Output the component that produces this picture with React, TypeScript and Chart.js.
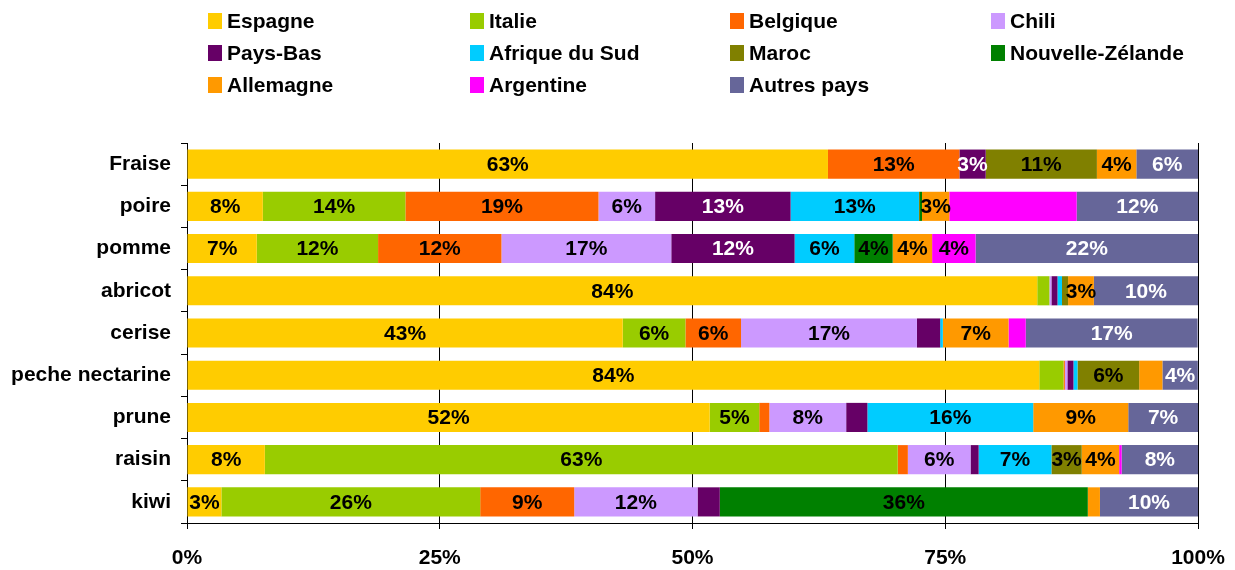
import React, { useEffect, useRef } from "react";
import { Chart, registerables } from "chart.js";

Chart.register(...registerables);

const categories = ["Fraise", "poire", "pomme", "abricot", "cerise", "peche nectarine", "prune", "raisin", "kiwi"];

const espagne = [63.4, 7.5, 6.9, 84.1, 43.1, 84.3, 51.7, 7.7, 3.4];
const italie = [0, 14.1, 12.0, 1.2, 6.2, 2.4, 4.9, 62.6, 25.6];
const belgique = [13.0, 19.1, 12.2, 0, 5.5, 0.13, 1.0, 1.0, 9.3];
const chili = [0, 5.6, 16.8, 0.2, 17.4, 0.25, 7.6, 6.2, 12.2];
const paysBas = [2.6, 13.4, 12.2, 0.6, 2.3, 0.6, 2.1, 0.8, 2.2];
const afriqueDuSud = [0, 12.7, 5.9, 0.45, 0.26, 0.4, 16.4, 7.2, 0];
const maroc = [11.0, 0.1, 0, 0.6, 0, 6.1, 0, 3.0, 0];
const nouvelleZelande = [0, 0.2, 3.8, 0, 0, 0, 0, 0, 36.4];
const allemagne = [3.9, 2.7, 3.9, 2.55, 6.5, 2.3, 9.4, 3.7, 1.2];
const argentine = [0, 12.6, 4.3, 0, 1.7, 0, 0, 0.25, 0];
const autresPays = [6.1, 12.0, 22.0, 10.3, 17.0, 3.5, 6.9, 7.55, 9.7];

const xTicks = [0, 25, 50, 75, 100];

// labels that are not shown in the original (series, category)
const hiddenLabels = [["Argentine", "poire"]];

const seriesNames = ["Espagne", "Italie", "Belgique", "Chili", "Pays-Bas", "Afrique du Sud", "Maroc", "Nouvelle-Zélande", "Allemagne", "Argentine", "Autres pays"];
const seriesValues = [espagne, italie, belgique, chili, paysBas, afriqueDuSud, maroc, nouvelleZelande, allemagne, argentine, autresPays];
const seriesColors = ["#FFCC00", "#99CC00", "#FF6600", "#CC99FF", "#660066", "#00CCFF", "#808000", "#008000", "#FF9900", "#FF00FF", "#666699"];
const labelColors = ["#000", "#000", "#000", "#000", "#fff", "#000", "#000", "#000", "#000", "#000", "#fff"];

const FONT = "bold 21px 'Liberation Sans', Arial, sans-serif";

const labelPlugin = {
  id: "segLabels",
  afterDatasetsDraw(chart: any) {
    const ctx = chart.ctx;
    ctx.save();
    ctx.font = FONT;
    ctx.textAlign = "center";
    ctx.textBaseline = "middle";
    chart.data.datasets.forEach((ds: any, di: number) => {
      const meta = chart.getDatasetMeta(di);
      meta.data.forEach((el: any, i: number) => {
        const v = ds.data[i];
        if (v < 2.5) return;
        if (hiddenLabels.some((h) => h[0] === ds.label && h[1] === categories[i])) return;
        const p = el.getProps(["x", "y", "base"], true);
        ctx.fillStyle = labelColors[di];
        ctx.fillText(Math.round(v) + "%", (p.x + p.base) / 2, p.y + 1);
      });
    });
    ctx.restore();
  },
};

const legendCols = [208, 470, 730, 991];
const legendRows = [21, 53, 85];

const legendPlugin = {
  id: "gridLegend",
  afterDraw(chart: any) {
    const ctx = chart.ctx;
    ctx.save();
    ctx.font = FONT;
    ctx.textAlign = "left";
    ctx.textBaseline = "middle";
    chart.data.datasets.forEach((ds: any, i: number) => {
      const x = legendCols[i % 4];
      const y = legendRows[Math.floor(i / 4)];
      ctx.fillStyle = ds.backgroundColor;
      ctx.fillRect(x, y - 8, 14, 16);
      ctx.fillStyle = "#000";
      ctx.fillText(ds.label, x + 19, y + 1);
    });
    ctx.restore();
  },
};

export default function App() {
  const ref = useRef<HTMLCanvasElement | null>(null);
  useEffect(() => {
    if (!ref.current) return;
    const chart = new Chart(ref.current, {
      type: "bar",
      data: {
        labels: categories,
        datasets: seriesNames.map((name, i) => ({
          label: name,
          data: seriesValues[i],
          backgroundColor: seriesColors[i],
          borderWidth: 0,
          categoryPercentage: 1,
          barPercentage: 0.69,
        })),
      },
      options: {
        indexAxis: "y",
        animation: false,
        responsive: true,
        maintainAspectRatio: false,
        layout: { padding: { top: 143, right: 37, left: 0, bottom: 0 } },
        plugins: { legend: { display: false }, tooltip: { enabled: false } },
        scales: {
          x: {
            stacked: true,
            min: 0,
            max: 100,
            afterBuildTicks: (scale: any) => {
              scale.ticks = xTicks.map((v) => ({ value: v }));
            },
            afterFit: (scale: any) => {
              scale.height = 47;
              scale.paddingLeft = 0;
              scale.paddingRight = 0;
            },
            grid: { color: "#000", lineWidth: 1, drawTicks: true, tickLength: 6 },
            border: { display: true, color: "#000", width: 1 },
            ticks: {
              color: "#000",
              padding: 17,
              font: { family: "'Liberation Sans', Arial, sans-serif", size: 21, weight: "bold" },
              callback: (v: any) => v + "%",
              maxRotation: 0,
            },
          },
          y: {
            stacked: true,
            afterFit: (scale: any) => {
              scale.width = 187;
            },
            grid: { drawOnChartArea: false, drawTicks: true, tickLength: 6, color: "#000", offset: true },
            border: { display: true, color: "#000", width: 1 },
            ticks: {
              color: "#000",
              padding: 10,
              font: { family: "'Liberation Sans', Arial, sans-serif", size: 21, weight: "bold" },
            },
          },
        },
      },
      plugins: [labelPlugin, legendPlugin],
    });
    return () => chart.destroy();
  }, []);
  return (
    <div style={{ position: "fixed", left: 0, top: 0, width: 1235, height: 570, background: "#fff" }}>
      <canvas ref={ref} />
    </div>
  );
}
